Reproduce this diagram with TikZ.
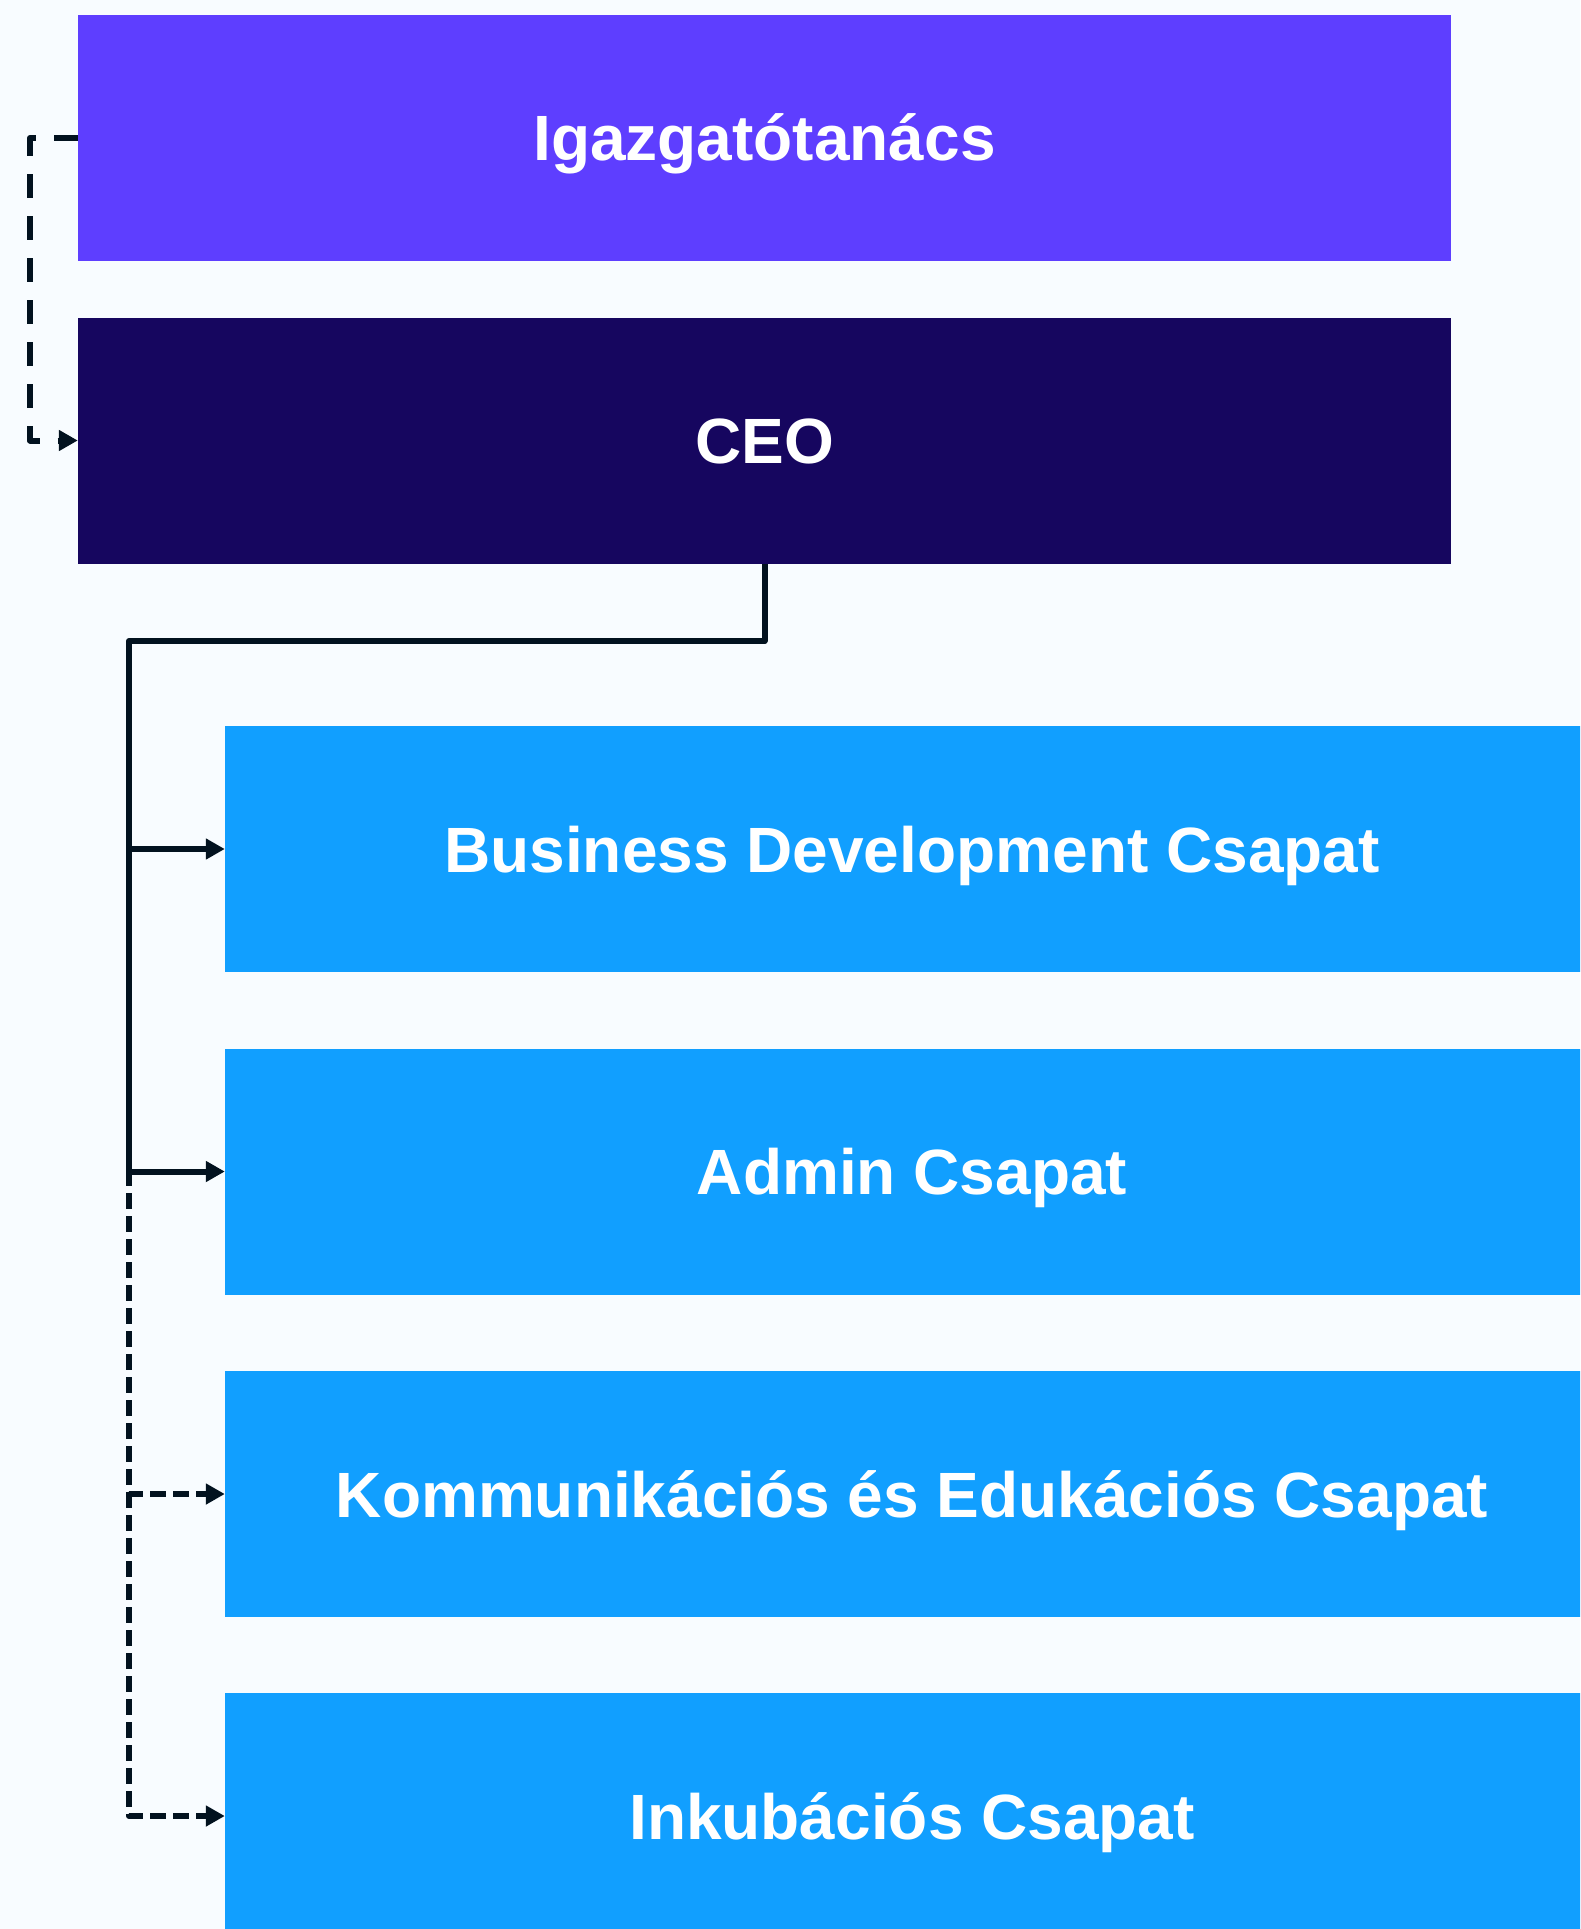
\documentclass[tikz,border=0pt]{standalone}
\usepackage{fontspec}
\setmainfont{Liberation Sans}
\usetikzlibrary{arrows.meta}
\definecolor{bgc}{HTML}{F8FCFF}
\definecolor{boardc}{HTML}{5E3EFF}
\definecolor{ceoc}{HTML}{16065F}
\definecolor{teamc}{HTML}{119FFF}
\definecolor{linec}{HTML}{02121F}
\tikzset{
  box/.style={rectangle, draw=none, inner sep=0pt, minimum height=246pt, text=white,
    text height=46pt, text depth=0pt,
    font=\fontsize{64}{70}\selectfont\bfseries},
  topbox/.style={box, minimum width=1373pt},
  teambox/.style={box, fill=teamc, minimum width=1374pt},
  conn/.style={draw=linec, line width=6pt, line join=round, -{Triangle[length=19pt,width=20pt]}},
  dashconn/.style={conn, dash pattern=on 16pt off 7pt},
  boarddash/.style={conn, dash pattern=on 24pt off 18pt}
}
\begin{document}
\begin{tikzpicture}[x=1pt,y=-1pt]
\useasboundingbox (0,0) rectangle (1580,1929);
\fill[bgc] (0,0) rectangle (1580,1929);
\clip (0,0) rectangle (1580,1929);
\node[topbox, fill=boardc] (board) at (764.5,138) {Igazgatótanács};
\node[topbox, fill=ceoc] (ceo) at (764.5,440.5) {CEO};
\node[teambox] (t1) at (912,849) {Business Development Csapat};
\node[teambox] (t2) at (912,1171.5) {Admin Csapat};
\node[teambox] (t3) at (912,1494) {Kommunikációs és Edukációs Csapat};
\node[teambox] (t4) at (912,1816) {Inkubációs Csapat};
\coordinate (bl) at (30,138);
\coordinate (j1) at (764.5,641);
\coordinate (j2) at (129,641);
\draw[boarddash] (board.west) -- (bl) |- (ceo.west);
\draw[dashconn] (j2) |- (t3.west);
\draw[dashconn] (j2) |- (t4.west);
\draw[conn] (ceo.south) -- (j1) -- (j2) |- (t1.west);
\draw[conn] (j2) |- (t2.west);
\end{tikzpicture}
\end{document}
